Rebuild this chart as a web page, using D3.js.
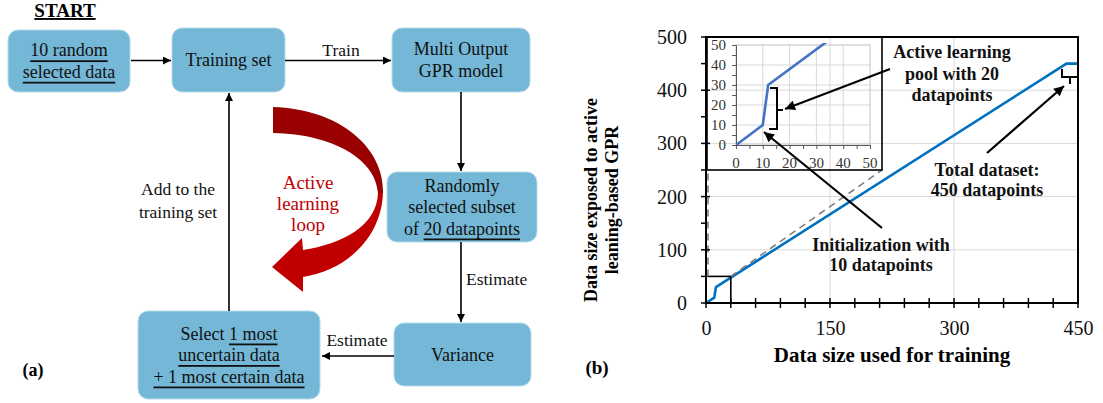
<!DOCTYPE html>
<meta charset="utf-8">
<style>
body { margin: 0; background: #fff; }
svg, svg text { font-family: "Liberation Serif", "Times New Roman", serif; }
.box { fill: #74b7d6; stroke: #b5dcec; stroke-width: 1; }
.ftxt { font-size: 18px; fill: #111; text-anchor: middle; dominant-baseline: central; }
.u { text-decoration: underline; }
.grid { stroke: #d9d9d9; stroke-width: 1; }
.ann { font-size: 18px; font-weight: bold; fill: #111; text-anchor: middle; }
</style>
<body>
<svg width="1103" height="403" font-family="Liberation Serif, serif"></svg>
<script src="https://d3js.org/d3.v7.min.js"></script>
<script>

// chart (b) data
var trainSize   = [0, 10, 12, 436, 450];
var exposedSize = [0, 10, 30, 450, 450];
var xTicks = [0, 150, 300, 450];
var yTicks = [0, 100, 200, 300, 400, 500];
var insetTicks = [0, 10, 20, 30, 40, 50];
var zoomExtent = [30, 50];   // zoomed region: training 0-30, exposed 0-50

// flowchart (a) texts; each line is a list of [text, underlined]
var boxLabels = {
  init:   [[["10 random", 1]], [["selected data", 1]]],
  train:  [[["Training set", 0]]],
  model:  [[["Multi Output", 0]], [["GPR model", 0]]],
  subset: [[["Randomly", 0]], [["selected subset", 0]], [["of ", 0], ["20 datapoints", 1]]],
  vari:   [[["Variance", 0]]],
  select: [[["Select ", 0], ["1 most", 1]], [["uncertain data", 1]], [["+ 1 most certain data", 1]]]
};

var svg = d3.select("svg");

var defs = svg.append("defs");
function marker(id, w, h) {
  defs.append("marker")
      .attr("id", id)
      .attr("markerUnits", "userSpaceOnUse")
      .attr("viewBox", "0 0 10 10")
      .attr("refX", 10).attr("refY", 5)
      .attr("markerWidth", w).attr("markerHeight", h)
      .attr("orient", "auto")
    .append("path")
      .attr("d", "M0,0L10,5L0,10Z")
      .attr("fill", "#000");
}
marker("arr", 9, 8);
marker("arrBig", 12, 10);

var grad = defs.append("linearGradient")
    .attr("id", "loopGrad")
    .attr("gradientUnits", "userSpaceOnUse")
    .attr("x1", 0).attr("x2", 0).attr("y1", 107).attr("y2", 292);
grad.append("stop").attr("offset", 0).attr("stop-color", "#990000");
grad.append("stop").attr("offset", 0.465).attr("stop-color", "#990000");
grad.append("stop").attr("offset", 0.465).attr("stop-color", "#c00000");
grad.append("stop").attr("offset", 1).attr("stop-color", "#c00000");

// ---------- (a) flowchart ----------
var layout = {
  init:   [8, 30, 130, 92],
  train:  [172, 28, 285, 92],
  model:  [392, 28, 530, 92],
  subset: [387, 172, 537, 242],
  vari:   [394, 323, 531, 386],
  select: [138, 311, 320, 399]
};

var fc = svg.append("g");

fc.append("text")
    .attr("x", 65).attr("y", 17)
    .attr("text-anchor", "middle")
    .style("font-size", "19px").style("font-weight", "bold")
    .attr("class", "u")
    .text("START");

Object.keys(layout).forEach(function(k) {
  var b = layout[k], lines = boxLabels[k];
  fc.append("rect")
      .attr("class", "box")
      .attr("x", b[0]).attr("y", b[1])
      .attr("width", b[2] - b[0]).attr("height", b[3] - b[1])
      .attr("rx", 10);
  var cy = (b[1] + b[3]) / 2, lh = 21.5;
  lines.forEach(function(parts, i) {
    var t = fc.append("text")
        .attr("class", "ftxt")
        .attr("x", (b[0] + b[2]) / 2)
        .attr("y", cy + (i - (lines.length - 1) / 2) * lh);
    parts.forEach(function(p) {
      t.append("tspan").attr("class", p[1] ? "u" : null).text(p[0]);
    });
  });
});

function arrow(g, x1, y1, x2, y2, m, w) {
  g.append("line")
      .attr("x1", x1).attr("y1", y1).attr("x2", x2).attr("y2", y2)
      .attr("stroke", "#000").attr("stroke-width", w || 1.6)
      .attr("marker-end", "url(#" + (m || "arr") + ")");
}
arrow(fc, 131, 60.5, 171, 60.5);
arrow(fc, 285, 60.5, 391, 60.5);
arrow(fc, 461, 92, 461, 171);
arrow(fc, 461, 242, 461, 322);
arrow(fc, 394, 356, 322, 356);
arrow(fc, 229, 311, 229, 93);

function label(g, x, y, txt, anchor, color) {
  g.append("text")
      .attr("x", x).attr("y", y)
      .attr("text-anchor", anchor || "middle")
      .attr("dominant-baseline", "central")
      .style("font-size", "17.5px")
      .attr("fill", color || "#111")
      .text(txt);
}
label(fc, 341, 50, "Train");
label(fc, 466, 279, "Estimate", "start");
label(fc, 357, 340, "Estimate");
label(fc, 178, 189, "Add to the");
label(fc, 178, 212, "training set");

// curved red loop arrow
fc.append("path")
    .attr("d", "M273,107 C340,109 384,148 383,192 C382,236 348,270 303,277" +
               " L303,292 L272,267 L302,238 L303,250" +
               " C342,244 377,226 378,193 C376,160 334,134 273,133 Z")
    .attr("fill", "url(#loopGrad)");

["Active", "learning", "loop"].forEach(function(s, i) {
  fc.append("text")
      .attr("x", 308).attr("y", 182 + i * 21)
      .attr("text-anchor", "middle").attr("dominant-baseline", "central")
      .style("font-size", "19px").attr("fill", "#c00000")
      .text(s);
});

fc.append("text")
    .attr("x", 33).attr("y", 376)
    .attr("text-anchor", "middle")
    .style("font-size", "18px").style("font-weight", "bold")
    .text("(a)");

// ---------- (b) chart ----------
var x = d3.scaleLinear().domain([0, 450]).range([706, 1078]);
var y = d3.scaleLinear().domain([0, 500]).range([303, 37]);

var ch = svg.append("g");

ch.selectAll(".gy").data(yTicks.slice(1, -1)).enter().append("line")
    .attr("class", "grid")
    .attr("x1", x(0)).attr("x2", x(450))
    .attr("y1", function(d) { return y(d); }).attr("y2", function(d) { return y(d); });
ch.selectAll(".gx").data(xTicks.slice(1, -1)).enter().append("line")
    .attr("class", "grid")
    .attr("y1", y(0)).attr("y2", y(500))
    .attr("x1", function(d) { return x(d); }).attr("x2", function(d) { return x(d); });

var line = d3.line()
    .x(function(d) { return x(d[0]); })
    .y(function(d) { return y(d[1]); });
var pts = d3.zip(trainSize, exposedSize);

ch.append("path")
    .datum(pts)
    .attr("d", line)
    .attr("fill", "none")
    .attr("stroke", "#0070c0")
    .attr("stroke-width", 2.6)
    .attr("stroke-linejoin", "round");

// zoom rectangle and connectors
ch.append("rect")
    .attr("x", x(0)).attr("y", y(zoomExtent[1]))
    .attr("width", x(zoomExtent[0]) - x(0))
    .attr("height", y(0) - y(zoomExtent[1]))
    .attr("fill", "none").attr("stroke", "#000").attr("stroke-width", 1.6);

var inX0 = 707, inX1 = 882, inY0 = 37, inY1 = 170;
[[x(0) + 2, inX0 + 1], [x(zoomExtent[0]), inX1]].forEach(function(c) {
  ch.append("line")
      .attr("x1", c[0]).attr("y1", y(zoomExtent[1]))
      .attr("x2", c[1]).attr("y2", inY1)
      .attr("stroke", "#7f7f7f").attr("stroke-width", 1.6)
      .attr("stroke-dasharray", "7,5");
});

// inset
var ix = d3.scaleLinear().domain([0, 50]).range([736, 870]);
var iy = d3.scaleLinear().domain([0, 50]).range([145, 45]);
var ins = ch.append("g");

ins.selectAll(".igy").data(insetTicks.slice(1, -1)).enter().append("line")
    .attr("class", "grid")
    .attr("x1", ix(0)).attr("x2", ix(50))
    .attr("y1", function(d) { return iy(d); }).attr("y2", function(d) { return iy(d); });
ins.selectAll(".igx").data(insetTicks.slice(1, -1)).enter().append("line")
    .attr("class", "grid")
    .attr("y1", iy(0)).attr("y2", iy(50))
    .attr("x1", function(d) { return ix(d); }).attr("x2", function(d) { return ix(d); });
ins.append("rect")
    .attr("x", ix(0)).attr("y", iy(50))
    .attr("width", ix(50) - ix(0)).attr("height", iy(0) - iy(50))
    .attr("fill", "none").attr("stroke", "#bfbfbf");

var iax = ins.append("g")
    .attr("transform", "translate(0," + iy(0) + ")")
    .call(d3.axisBottom(ix).tickValues(d3.range(0, 51, 5)).tickSize(4).tickFormat(""));
var iay = ins.append("g")
    .attr("transform", "translate(" + ix(0) + ",0)")
    .call(d3.axisLeft(iy).tickValues(d3.range(0, 51, 5)).tickSize(4).tickFormat(""));
[iax, iay].forEach(function(a) {
  a.selectAll("path, line").attr("stroke", "#595959");
});

ins.selectAll(".ilx").data(insetTicks).enter().append("text")
    .attr("x", function(d) { return ix(d); }).attr("y", 168)
    .attr("text-anchor", "middle")
    .style("font-size", "15px").attr("fill", "#333")
    .text(function(d) { return d; });
ins.selectAll(".ily").data(insetTicks).enter().append("text")
    .attr("x", 726).attr("y", function(d) { return iy(d); })
    .attr("dy", "0.34em")
    .attr("text-anchor", "end")
    .style("font-size", "15px").attr("fill", "#333")
    .text(function(d) { return d; });

ins.append("clipPath").attr("id", "iclip")
  .append("rect")
    .attr("x", ix(0)).attr("y", iy(50) - 2)
    .attr("width", ix(50) - ix(0)).attr("height", iy(0) - iy(50) + 2);

var iline = d3.line()
    .x(function(d) { return ix(d[0]); })
    .y(function(d) { return iy(d[1]); });
ins.append("path")
    .datum(pts)
    .attr("d", iline)
    .attr("clip-path", "url(#iclip)")
    .attr("fill", "none")
    .attr("stroke", "#4472c4")
    .attr("stroke-width", 2.6);

ins.append("rect")
    .attr("x", inX0).attr("y", inY0)
    .attr("width", inX1 - inX0).attr("height", inY1 - inY0)
    .attr("fill", "none").attr("stroke", "#000").attr("stroke-width", 1.6);

// main frame, ticks and labels
ch.append("rect")
    .attr("x", x(0)).attr("y", y(500))
    .attr("width", x(450) - x(0)).attr("height", y(0) - y(500))
    .attr("fill", "none").attr("stroke", "#000").attr("stroke-width", 2);

ch.selectAll(".mtx").data(d3.range(0, 451, 30)).enter().append("line")
    .attr("x1", function(d) { return x(d); }).attr("x2", function(d) { return x(d); })
    .attr("y1", y(0) - 5).attr("y2", y(0) + 5)
    .attr("stroke", "#000").attr("stroke-width", 1.5);
ch.selectAll(".mty").data(d3.range(0, 501, 50)).enter().append("line")
    .attr("y1", function(d) { return y(d); }).attr("y2", function(d) { return y(d); })
    .attr("x1", x(0) - 5).attr("x2", function(d) { return d % 100 ? x(0) : x(0) + 4; })
    .attr("stroke", "#000").attr("stroke-width", 1.5);

var xa = ch.append("g")
    .attr("transform", "translate(0," + y(0) + ")")
    .call(d3.axisBottom(x).tickValues(xTicks).tickSize(0).tickPadding(18));
var ya = ch.append("g")
    .attr("transform", "translate(" + x(0) + ",0)")
    .call(d3.axisLeft(y).tickValues(yTicks).tickSize(0).tickPadding(19));
[xa, ya].forEach(function(a) {
  a.attr("font-family", null).attr("font-size", null);
  a.select(".domain").remove();
  a.selectAll("text").style("font-size", "20px").attr("fill", "#111");
});

ch.append("text")
    .attr("x", 892).attr("y", 362)
    .attr("text-anchor", "middle")
    .style("font-size", "21px").style("font-weight", "bold")
    .text("Data size used for training");

var yt = ch.append("text")
    .attr("transform", "translate(597,200) rotate(-90)")
    .attr("text-anchor", "middle")
    .style("font-size", "18px").style("font-weight", "bold");
yt.append("tspan").attr("x", 0).attr("y", 0).text("Data size exposed to active");
yt.append("tspan").attr("x", 0).attr("y", 21).text("leaning-based GPR");

ch.append("text")
    .attr("x", 597).attr("y", 374)
    .attr("text-anchor", "middle")
    .style("font-size", "19px").style("font-weight", "bold")
    .text("(b)");

// annotations
function ann(lines, cx, y0, lh) {
  lines.forEach(function(s, i) {
    ch.append("text").attr("class", "ann")
        .attr("x", cx).attr("y", y0 + i * lh).text(s);
  });
}
ann(["Active learning", "pool with 20", "datapoints"], 952, 58, 21.5);
ann(["Total dataset:", "450 datapoints"], 987, 176, 20);
ann(["Initialization with", "10 datapoints"], 881, 251, 20);

arrow(ch, 890, 69, 785, 109, "arrBig", 2.2);
arrow(ch, 882, 228, 764, 132, "arrBig", 2.2);
arrow(ch, 987, 153, 1064, 86, "arrBig", 2.2);

// braces
ch.append("path")
    .attr("d", "M770,88 L777,88 L777,129 L769,129 M777,110 L783,110")
    .attr("fill", "none").attr("stroke", "#000").attr("stroke-width", 2);
ch.append("path")
    .attr("d", "M1062,69 L1062,77 L1078,77 L1078,69 M1070,77 L1070,84")
    .attr("fill", "none").attr("stroke", "#000").attr("stroke-width", 2);

</script>
</body>
